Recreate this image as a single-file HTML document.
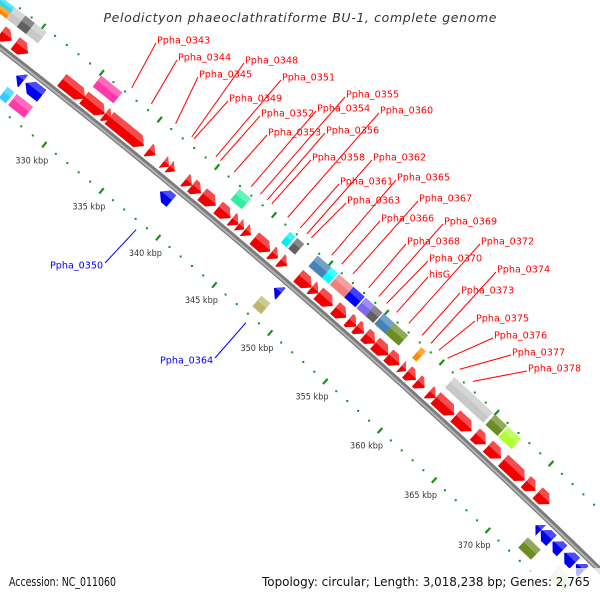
<!DOCTYPE html>
<html><head><meta charset="utf-8"><style>
html,body{margin:0;padding:0;background:#fff;overflow:hidden;width:600px;height:600px}
svg{display:block;overflow:hidden}
text{font-family:"DejaVu Sans","Liberation Sans",sans-serif}
</style></head><body>
<svg id="map" width="600" height="600" viewBox="0 0 600 600" xmlns="http://www.w3.org/2000/svg">
<defs><clipPath id="clipAll"><rect x="0" y="0" width="600" height="600"/></clipPath></defs>
<rect width="600" height="600" fill="#fff"/>
<g clip-path="url(#clipAll)">
<g id="gTicks"></g>
<g id="gBackbone"></g>
<g id="gGenes"></g>
<g id="gLabels"></g>
</g>
<text x="300" y="22" text-anchor="middle" font-size="12.5" font-style="italic" fill="#333" textLength="393" lengthAdjust="spacing">Pelodictyon phaeoclathratiforme BU-1, complete genome</text>
<rect x="0" y="568" width="600" height="32" fill="#fff" opacity="0.72"/>
<text x="9" y="586" font-size="12" fill="#111" textLength="107" lengthAdjust="spacingAndGlyphs">Accession: NC_011060</text>
<text x="262" y="586" font-size="12" fill="#111" textLength="328" lengthAdjust="spacingAndGlyphs">Topology: circular; Length: 3,018,238 bp; Genes: 2,765</text>
</svg>
<script>
// ---- data (kbp) ----
const fwdStart = [321.4,323.0,324.2,328.2,330.1,331.9,332.3,335.7,337.0,337.5,338.9,339.5,340.4,341.8,343.0,343.6,344.15,345.0,346.5,347.3,348.9,350.1,350.7,352.2,353.4,354.1,354.9,355.8,357.0,358.15,358.7,359.6,360.7,361.3,363.1,364.9,366.1,367.5,369.6,370.7,377.0];
const fwdEnd   = [322.7,323.9,325.3,330.2,331.9,332.5,335.3,336.3,337.5,338.0,339.5,340.3,341.6,342.9,343.6,344.1,344.7,346.4,347.1,347.9,350.1,350.7,352.0,353.2,354.1,354.8,355.8,357.0,358.0,358.6,359.5,360.3,361.3,363.0,364.6,365.9,367.3,369.5,370.5,371.8,377.8];
const revStart = [325.6,326.4,338.1,348.2,372.1,372.6,373.7,374.8,375.9];
const revEnd   = [326.2,327.8,339.1,348.8,372.6,373.6,374.6,375.8,376.6];
const cogStart = [321.4,321.4,322.7,323.6,324.4,330.1,342.1,346.55,347.2,349.0,350.2,350.9,352.2,353.3,354.1,354.9,355.9,358.3,361.3,363.1,365.0,366.2, 325.6,326.4,347.9,372.3,375.2];
const cogEnd   = [322.7,322.7,323.6,324.4,325.4,331.9,343.1,347.05,347.8,350.3,350.8,352.2,353.2,354.1,354.8,355.9,357.1,358.7,363.1,364.8,366.1,367.4, 326.2,327.8,348.7,373.5,376.6];
const cogColor = ['#ff8c00','#30d8e8','#c8c8c8','#606060','#c8c8c8','#ff3aa8','#33eea0','#00f0f0','#606060','#4682b4','#00ffff','#f08080','#0000ff','#7b68ee','#606060','#4682b4','#6b8e23','#ff8c00','#c8c8c8','#c8c8c8','#6b8e23','#adff2f', '#33ccff','#ff3aa8','#bdb76b','#6b8e23','#c8e6b0'];
const cogStrand = ['o','o','o','o','o','o','o','o','o','o','o','o','o','o','o','o','o','o','o','o','o','o','i','i','i','i','i'];
const cogPart  = [1,2,0,0,0,0,0,0,0,0,0,0,0,0,0,0,0,0,0,0,0,0,0,0,0,0,0];
const labelNames = ['Ppha_0343','Ppha_0344','Ppha_0345','Ppha_0348','Ppha_0349','Ppha_0351','Ppha_0352','Ppha_0353','Ppha_0354','Ppha_0355','Ppha_0356','Ppha_0358','Ppha_0360','Ppha_0361','Ppha_0362','Ppha_0363','Ppha_0365','Ppha_0366','Ppha_0367','Ppha_0368','Ppha_0369','Ppha_0370','hisG','Ppha_0372','Ppha_0373','Ppha_0374','Ppha_0375','Ppha_0376','Ppha_0377','Ppha_0378','Ppha_0350','Ppha_0364'];
const labelKbp = [332.2,333.9,336.0,337.4,337.6,339.5,339.9,341.1,342.6,343.4,344.0,344.4,345.8,346.9,347.5,347.9,349.7,350.6,351.6,353.0,353.9,354.6,355.5,356.6,357.8,358.6,359.3,360.1,361.2,362.4,338.5,348.3];
const labelStrand = ['o','o','o','o','o','o','o','o','o','o','o','o','o','o','o','o','o','o','o','o','o','o','o','o','o','o','o','o','o','o','i','i'];
const labelX = [157,178,199,245,229,282,261,268,317,346,326,312,380,340,373,347,397,381,419,407,444,429,429,481,461,497,476,494,512,528,50,160];
const labelY = [40,57,74,60,98,77,113,132,108,94,130,157,110,181,157,200,177,218,198,241,221,258,274,241,290,269,318,335,352,368,265,360];
const tickMin = 318, tickMax = 374, tickLabelStep = 5;

// ---- geometry ----
const CX = -4364, CY = 5660.5, R = 7110, GENOME = 3018.238;
const A0 = -0.8549, K0 = 350;
function ang(k){ return A0 + (k - K0) * 2 * Math.PI / GENOME; }
function pt(k, rr){ const a = ang(k); return [CX + rr*Math.cos(a), CY + rr*Math.sin(a)]; }
const NS = 'http://www.w3.org/2000/svg';
function mk(tag, attrs, parent){ const e = document.createElementNS(NS, tag); for (const k in attrs) e.setAttribute(k, attrs[k]); parent.appendChild(e); return e; }
function poly(pts){ return pts.map(p => p[0].toFixed(2)+','+p[1].toFixed(2)).join(' '); }
function lighten(hex, f){ const n = parseInt(hex.slice(1),16); let r=n>>16,g=(n>>8)&255,b=n&255; r=Math.round(r+(255-r)*f); g=Math.round(g+(255-g)*f); b=Math.round(b+(255-b)*f); return 'rgb('+r+','+g+','+b+')'; }
const pxPerKbp = R * 2 * Math.PI / GENOME;
const headK = 7.5 / pxPerKbp;
function arcPath(rr, k1, k2){
  let d = '';
  for (let k = k1; k <= k2 + 1e-9; k += 0.5) { const p = pt(k, rr); d += (d ? 'L' : 'M') + p[0].toFixed(2) + ',' + p[1].toFixed(2); }
  return d;
}

// ---- ticks ----
const gT = document.getElementById('gTicks');
[R - 49, R + 43].forEach(function(rr){
  for (let k = tickMin; k <= tickMax; k++) {
    if (k % tickLabelStep === 0) {
      const p1 = pt(k, rr - 3.5), p2 = pt(k, rr + 3.5);
      const l = mk('line', {x1:p1[0], y1:p1[1], x2:p2[0], y2:p2[1], stroke:'#15901a', 'stroke-width':2.2}, gT);
      
      
    } else {
      const p = pt(k, rr);
      const d = mk('rect', {x:p[0]-1, y:p[1]-1, width:2, height:2, fill:'#15901a'}, gT);
      
      
    }
  }
});
for (let k = tickMin; k <= tickMax; k++) {
  if (k % tickLabelStep !== 0) continue;
  const p = pt(k, R - 69);
  const t = mk('text', {x:p[0], y:p[1]+3, 'text-anchor':'middle', 'font-size':8.5, fill:'#333', textLength:33, lengthAdjust:'spacingAndGlyphs'}, gT);
  t.textContent = k + ' kbp';
  
  
}

// ---- backbone ----
const gB = document.getElementById('gBackbone');
const c1 = mk('path', {d:arcPath(R, 316, 382), fill:'none', stroke:'#7a7a7a', 'stroke-width':6}, gB);


const c2 = mk('path', {d:arcPath(R-0.8, 316, 382), fill:'none', stroke:'#b4b4b4', 'stroke-width':2}, gB);



// ---- genes ----
const gG = document.getElementById('gGenes');
function arrow(s, e, rc, hw, dir, color, name){
  const len = e - s, hk = Math.min(headK, len);
  const r0 = rc - hw, r1 = rc + hw;
  let pts;
  if (dir > 0) pts = [pt(s,r0), pt(e-hk,r0), pt(e,rc), pt(e-hk,r1), pt(s,r1)];
  else pts = [pt(e,r0), pt(s+hk,r0), pt(s,rc), pt(s+hk,r1), pt(e,r1)];
  const g = mk('g', {}, gG);
  
  
  mk('polygon', {points:poly(pts), fill:color}, g);
  let top;
  if (dir > 0) top = [pt(s,rc+hw*0.15), pt(e-hk*0.15,rc+hw*0.15), pt(e-hk,r1), pt(s,r1)];
  else top = [pt(e,rc+hw*0.15), pt(s+hk*0.15,rc+hw*0.15), pt(s+hk,r1), pt(e,r1)];
  mk('polygon', {points:poly(top), fill:lighten(color,0.3)}, g);
}
for (let i = 0; i < fwdStart.length; i++) arrow(fwdStart[i], fwdEnd[i], R + 12.5, 7.5, 1, '#f00000', 'forward-gene');
for (let i = 0; i < revStart.length; i++) arrow(revStart[i], revEnd[i], R - 12.5, 7.5, -1, '#0000f0', 'reverse-gene');
for (let i = 0; i < cogStart.length; i++) {
  let rc = cogStrand[i] === 'o' ? R + 33.5 : R - 33.5, hw = 7;
  if (cogPart[i] === 1) { rc = R + 30; hw = 3.5; }
  if (cogPart[i] === 2) { rc = R + 37; hw = 3.5; }
  const s = cogStart[i], e = cogEnd[i];
  const g = mk('g', {}, gG);
  
  
  mk('polygon', {points:poly([pt(s,rc-hw), pt(e,rc-hw), pt(e,rc+hw), pt(s,rc+hw)]), fill:cogColor[i]}, g);
  mk('polygon', {points:poly([pt(s,rc+hw*0.1), pt(e,rc+hw*0.1), pt(e,rc+hw), pt(s,rc+hw)]), fill:lighten(cogColor[i],0.25)}, g);
}

// ---- labels ----
const gL = document.getElementById('gLabels');
for (let i = 0; i < labelNames.length; i++) {
  const out = labelStrand[i] === 'o';
  const col = out ? '#ff0000' : '#0000ff';
  const p = pt(labelKbp[i], out ? R + 50 : R - 57);
  const ex = out ? labelX[i] - 1 : labelX[i] + 55;
  const ey = out ? labelY[i] + 3 : labelY[i] - 2;
  const ln = mk('line', {x1:p[0], y1:p[1], x2:ex, y2:ey, stroke:col, 'stroke-width':1}, gL);
  
  
  const t = mk('text', {x:labelX[i], y:labelY[i]+3.5, 'font-size':9.6, fill:col}, gL);
  t.textContent = labelNames[i];
  
  
}
</script>
</body></html>
